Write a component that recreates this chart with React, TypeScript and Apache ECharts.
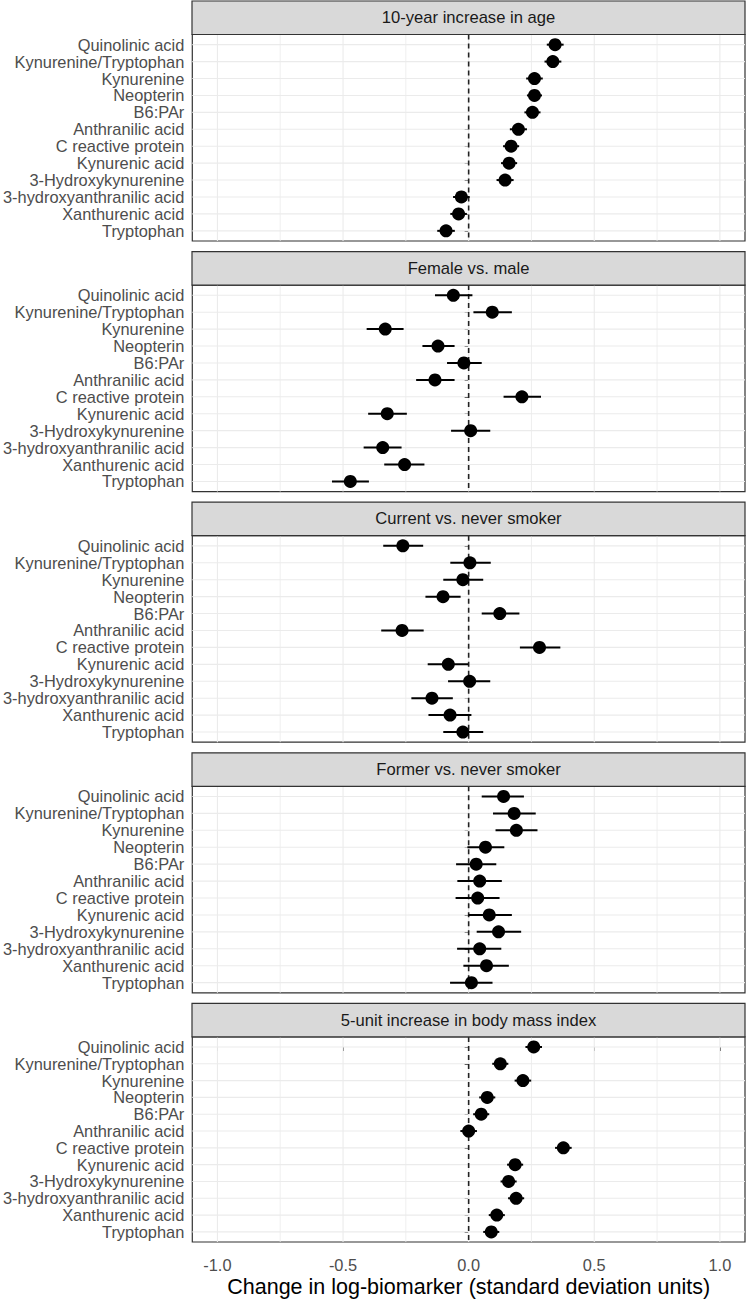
import React, { useEffect, useRef } from "react";
import * as echarts from "echarts";

const categories = [
  "Quinolinic acid",
  "Kynurenine/Tryptophan",
  "Kynurenine",
  "Neopterin",
  "B6:PAr",
  "Anthranilic acid",
  "C reactive protein",
  "Kynurenic acid",
  "3-Hydroxykynurenine",
  "3-hydroxyanthranilic acid",
  "Xanthurenic acid",
  "Tryptophan",
];

const panelTitles = [
  "10-year increase in age",
  "Female vs. male",
  "Current vs. never smoker",
  "Former vs. never smoker",
  "5-unit increase in body mass index",
];

// Panel 1: 10-year increase in age
const ageEst = [0.344, 0.335, 0.262, 0.262, 0.254, 0.198, 0.169, 0.161, 0.145, -0.029, -0.04, -0.09];
const ageLow = [0.311, 0.302, 0.229, 0.232, 0.222, 0.164, 0.137, 0.129, 0.111, -0.062, -0.073, -0.125];
const ageHigh = [0.378, 0.369, 0.295, 0.292, 0.286, 0.232, 0.201, 0.193, 0.179, 0.004, -0.007, -0.055];

// Panel 2: Female vs. male
const sexEst = [-0.061, 0.094, -0.332, -0.122, -0.019, -0.134, 0.212, -0.324, 0.008, -0.342, -0.255, -0.471];
const sexLow = [-0.134, 0.019, -0.406, -0.184, -0.086, -0.209, 0.139, -0.4, -0.07, -0.418, -0.336, -0.544];
const sexHigh = [0.015, 0.172, -0.259, -0.056, 0.052, -0.056, 0.288, -0.246, 0.086, -0.267, -0.176, -0.397];

// Panel 3: Current vs. never smoker
const curEst = [-0.262, 0.005, -0.023, -0.102, 0.124, -0.265, 0.282, -0.081, 0.004, -0.146, -0.074, -0.023];
const curLow = [-0.34, -0.073, -0.101, -0.172, 0.052, -0.348, 0.204, -0.163, -0.082, -0.228, -0.16, -0.101];
const curHigh = [-0.181, 0.088, 0.058, -0.032, 0.202, -0.179, 0.365, -0.001, 0.086, -0.063, 0.011, 0.058];

// Panel 4: Former vs. never smoker
const forEst = [0.139, 0.181, 0.19, 0.067, 0.03, 0.044, 0.036, 0.082, 0.119, 0.044, 0.071, 0.011];
const forLow = [0.052, 0.097, 0.107, -0.005, -0.05, -0.045, -0.052, -0.001, 0.032, -0.046, -0.021, -0.074];
const forHigh = [0.22, 0.267, 0.274, 0.142, 0.11, 0.132, 0.123, 0.172, 0.209, 0.13, 0.16, 0.095];

// Panel 5: 5-unit increase in BMI
const bmiEst = [0.259, 0.126, 0.216, 0.074, 0.05, 0.0, 0.377, 0.185, 0.159, 0.189, 0.112, 0.09];
const bmiLow = [0.226, 0.094, 0.183, 0.042, 0.018, -0.033, 0.344, 0.153, 0.127, 0.157, 0.08, 0.058];
const bmiHigh = [0.292, 0.158, 0.249, 0.106, 0.082, 0.033, 0.41, 0.217, 0.191, 0.221, 0.144, 0.122];

const panelEst = [ageEst, sexEst, curEst, forEst, bmiEst];
const panelLow = [ageLow, sexLow, curLow, forLow, bmiLow];
const panelHigh = [ageHigh, sexHigh, curHigh, forHigh, bmiHigh];

const xMajorTicks = [-1, -0.5, 0, 0.5, 1];
const xMinorTicks = [-0.75, -0.25, 0.25, 0.75];
const xMin = -1.1;
const xMax = 1.1;
const xTitle = "Change in log-biomarker (standard deviation units)";

const FONT = "'Liberation Sans', Arial, sans-serif";

export default function App() {
  const ref = useRef<HTMLDivElement>(null);

  useEffect(() => {
    if (!ref.current) return;
    const chart = echarts.init(ref.current, undefined, { renderer: "svg" });

    const plotLeft = 192;
    const plotWidth = 553;
    const period = 250.6;
    const stripH = 33.5;
    const plotH = 206.5;
    const stripTop = (i: number) => 1 + i * period;

    const grids: any[] = [];
    const xAxes: any[] = [];
    const yAxes: any[] = [];
    const series: any[] = [];
    const graphics: any[] = [];
    const catIdx = categories.map((_, i) => i);

    panelTitles.forEach((title, p) => {
      const top = stripTop(p) + stripH;
      grids.push({
        left: plotLeft,
        top,
        width: plotWidth,
        height: plotH,
        show: true,
        borderColor: "#333333",
        borderWidth: 1.2,
        backgroundColor: "transparent",
        containLabel: false,
      });
      const isLast = p === panelTitles.length - 1;
      xAxes.push({
        type: "value",
        gridIndex: p,
        min: xMin,
        max: xMax,
        axisLine: { show: false },
        splitLine: { show: false },
        axisTick: isLast
          ? { show: true, customValues: xMajorTicks, length: 4, lineStyle: { color: "#333333", width: 1 } }
          : { show: false },
        axisLabel: isLast
          ? {
              show: true,
              customValues: xMajorTicks,
              formatter: (v: number) => v.toFixed(1),
              color: "#4D4D4D",
              fontSize: 16.4,
              fontFamily: FONT,
              margin: 15,
            }
          : { show: false },
        name: isLast ? xTitle : "",
        nameLocation: "middle",
        nameGap: 34,
        nameTextStyle: { color: "#000000", fontSize: 21.5, fontFamily: FONT },
      });
      yAxes.push({
        type: "value",
        gridIndex: p,
        min: -0.6,
        max: categories.length - 1 + 0.6,
        inverse: true,
        axisLine: { show: false },
        splitLine: { show: false },
        axisTick: { show: true, customValues: catIdx, length: 4, lineStyle: { color: "#333333", width: 1 } },
        axisLabel: {
          show: true,
          customValues: catIdx,
          formatter: (v: number) => categories[Math.round(v)] ?? "",
          color: "#4D4D4D",
          fontSize: 16.4,
          fontFamily: FONT,
          margin: 8,
        },
      });

      // gridlines (one group per panel) + dashed zero line
      series.push({
        type: "custom",
        xAxisIndex: p,
        yAxisIndex: p,
        z: 1,
        silent: true,
        encode: { x: 0, y: 1 },
        data: [[0, 0]],
        renderItem: (params: any, api: any) => {
          const cs = params.coordSys;
          const children: any[] = [];
          catIdx.forEach((i) => {
            const pt = api.coord([0, i]);
            children.push({
              type: "line",
              shape: { x1: cs.x, y1: pt[1], x2: cs.x + cs.width, y2: pt[1] },
              style: { stroke: "#EBEBEB", lineWidth: 1.1 },
            });
          });
          xMinorTicks.forEach((v) => {
            const pt = api.coord([v, 0]);
            children.push({
              type: "line",
              shape: { x1: pt[0], y1: cs.y, x2: pt[0], y2: cs.y + cs.height },
              style: { stroke: "#EBEBEB", lineWidth: 0.8 },
            });
          });
          xMajorTicks.forEach((v) => {
            const pt = api.coord([v, 0]);
            children.push({
              type: "line",
              shape: { x1: pt[0], y1: cs.y, x2: pt[0], y2: cs.y + cs.height },
              style: { stroke: "#EBEBEB", lineWidth: 1.1 },
            });
          });
          const z0 = api.coord([0, 0]);
          children.push({
            type: "line",
            shape: { x1: z0[0], y1: cs.y, x2: z0[0], y2: cs.y + cs.height },
            style: { stroke: "#222222", lineWidth: 1.6, lineDash: [5, 4] },
          });
          return { type: "group", children };
        },
      });
      // error bars
      series.push({
        type: "custom",
        xAxisIndex: p,
        yAxisIndex: p,
        z: 3,
        silent: true,
        encode: { x: [0, 1], y: 2 },
        data: catIdx.map((i) => [panelLow[p][i], panelHigh[p][i], i]),
        renderItem: (params: any, api: any) => {
          const a = api.coord([api.value(0), api.value(2)]);
          const b = api.coord([api.value(1), api.value(2)]);
          return {
            type: "line",
            shape: { x1: a[0], y1: a[1], x2: b[0], y2: b[1] },
            style: { stroke: "#000000", lineWidth: 2 },
          };
        },
      });
      // points
      series.push({
        type: "scatter",
        xAxisIndex: p,
        yAxisIndex: p,
        z: 4,
        symbol: "circle",
        symbolSize: 13,
        itemStyle: { color: "#000000", opacity: 1 },
        data: catIdx.map((i) => [panelEst[p][i], i]),
      });

      // strip
      graphics.push({
        type: "rect",
        shape: { x: plotLeft, y: stripTop(p), width: plotWidth, height: stripH },
        style: { fill: "#D9D9D9", stroke: "#333333", lineWidth: 1.2 },
        z: 10,
      });
      graphics.push({
        type: "text",
        x: plotLeft + plotWidth / 2,
        y: stripTop(p) + stripH / 2,
        style: {
          text: title,
          fill: "#1A1A1A",
          fontSize: 16.6,
          fontFamily: FONT,
          align: "center",
          verticalAlign: "middle",
          textAlign: "center",
          textVerticalAlign: "middle",
        },
        z: 11,
      });
    });

    chart.setOption({
      animation: false,
      backgroundColor: "#FFFFFF",
      textStyle: { fontFamily: FONT },
      grid: grids,
      xAxis: xAxes,
      yAxis: yAxes,
      series,
      graphic: { elements: graphics },
    });

    return () => chart.dispose();
  }, []);

  return (
    <div
      ref={ref}
      style={{ position: "absolute", left: 0, top: 0, width: 746, height: 1299, background: "#fff" }}
    />
  );
}
